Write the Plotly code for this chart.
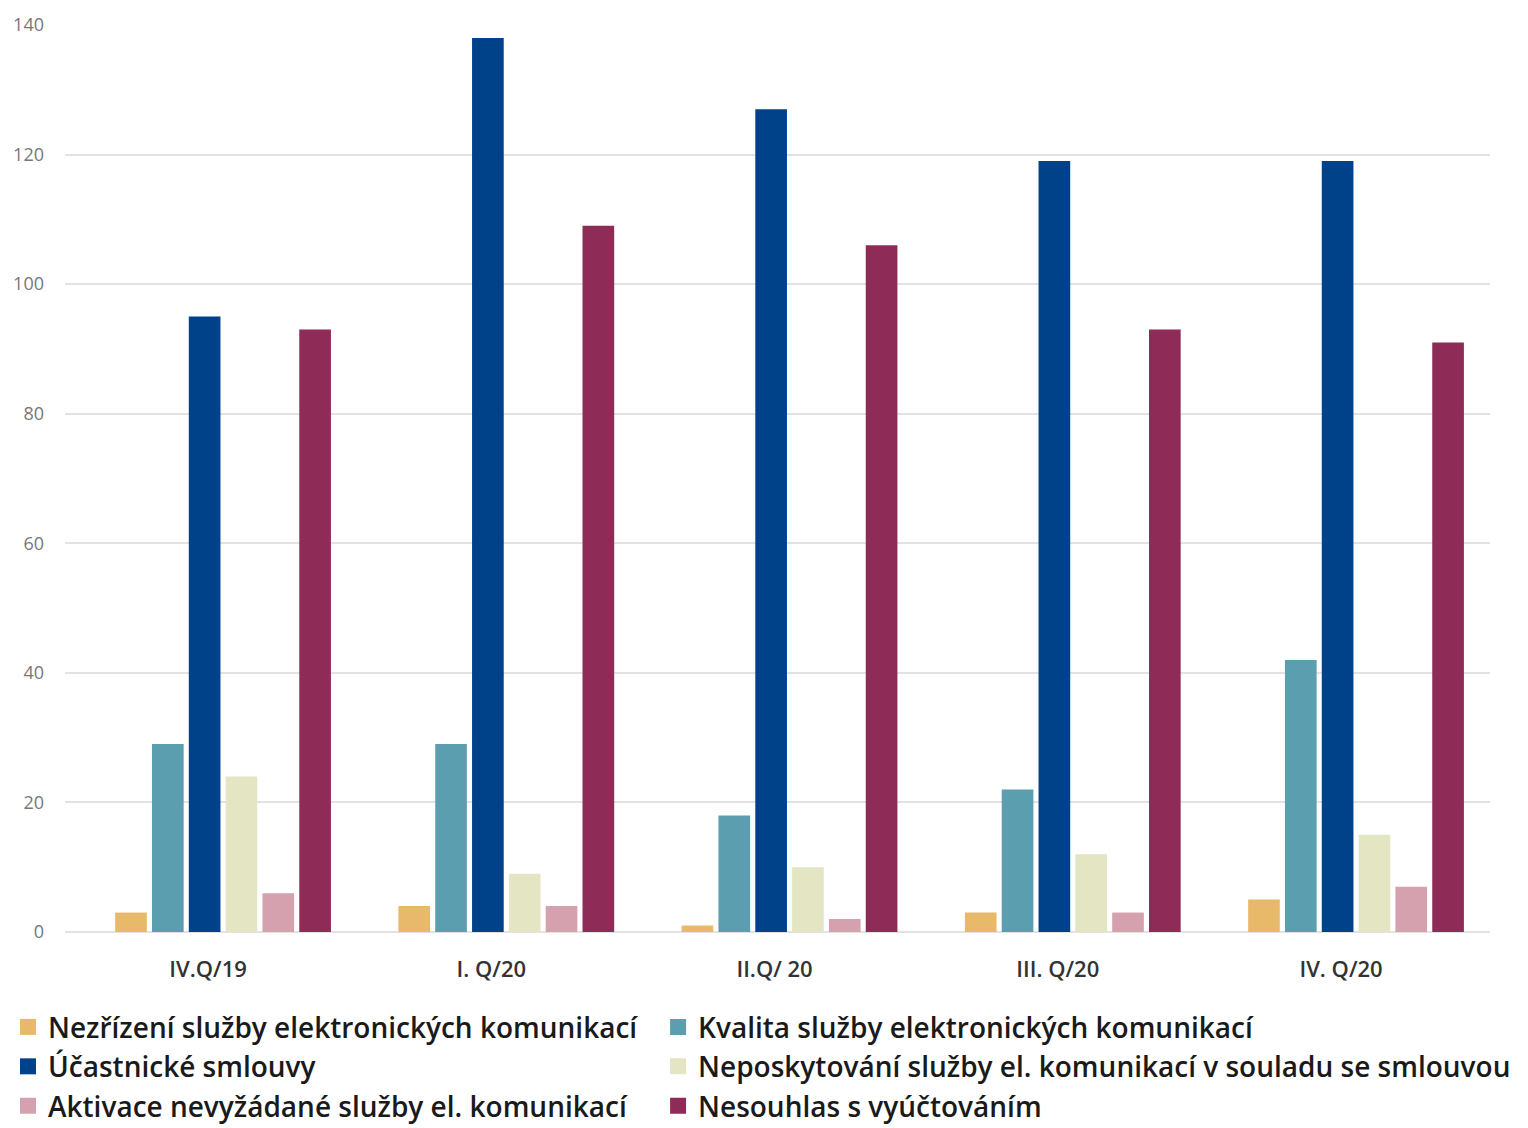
import plotly.graph_objects as go

categories = ["IV.Q/19", "I. Q/20", "II.Q/ 20", "III. Q/20", "IV. Q/20"]
series_names = [
    "Nezřízení služby elektronických komunikací",
    "Kvalita služby elektronických komunikací",
    "Účastnické smlouvy",
    "Neposkytování služby el. komunikací v souladu se smlouvou",
    "Aktivace nevyžádané služby el. komunikací",
    "Nesouhlas s vyúčtováním",
]
nezrizeni = [3, 4, 1, 3, 5]
kvalita = [29, 29, 18, 22, 42]
ucastnicke = [95, 138, 127, 119, 119]
neposkytovani = [24, 9, 10, 12, 15]
aktivace = [6, 4, 2, 3, 7]
nesouhlas = [93, 109, 106, 93, 91]
series_values = [nezrizeni, kvalita, ucastnicke, neposkytovani, aktivace, nesouhlas]
colors = ["#E8B96A", "#5B9EAF", "#00428A", "#E3E5C3", "#D6A1AE", "#8E2B56"]
legend_column = ["legend", "legend2", "legend", "legend2", "legend", "legend2"]
y_ticks = [0, 20, 40, 60, 80, 100, 120, 140]

fig = go.Figure()
for name, vals, col in zip(series_names, series_values, colors):
    fig.add_trace(go.Bar(
        x=categories, y=vals, name=name, legendgroup=name, showlegend=False,
        marker=dict(color=col, line=dict(width=0)),
    ))
for name, col, lg in zip(series_names, colors, legend_column):
    fig.add_trace(go.Scatter(
        x=[None], y=[None], name=name, legendgroup=name, mode="markers",
        marker=dict(symbol="square", size=22, color=col), legend=lg,
    ))

legend_font = dict(size=28, color="#1a1a1a", family="Open Sans", weight=600)
common_legend = dict(
    orientation="v", xref="paper", yref="container",
    yanchor="top", xanchor="left", itemwidth=30, traceorder="normal",
    font=legend_font, bgcolor="rgba(0,0,0,0)",
)

fig.update_layout(
    width=1528, height=1128,
    margin=dict(l=65, r=38, t=23, b=196),
    paper_bgcolor="white", plot_bgcolor="white",
    barmode="group", bargap=0.22, bargroupgap=0.14,
    font=dict(family="Open Sans", color="#222"),
    showlegend=True,
    legend=dict(x=-0.040, y=0.1115, **common_legend),
    legend2=dict(x=0.4162, y=0.1115, **common_legend),
    xaxis=dict(
        type="category", range=[-0.558, 4.473],
        showgrid=False, showline=False, zeroline=False,
        ticks="", tickfont=dict(size=22, color="#333", weight=600),
        ticklabelstandoff=22, ticklabelshift=-15,
    ),
    yaxis=dict(
        range=[0, 140], tickvals=y_ticks, showgrid=True,
        gridcolor="#e2e2e2", gridwidth=2, zeroline=True,
        zerolinecolor="#e2e2e2", zerolinewidth=2, showline=False,
        ticks="", tickfont=dict(size=18, color="#777"),
        ticklabelstandoff=20,
    ),
)
fig.write_html("out.html")
